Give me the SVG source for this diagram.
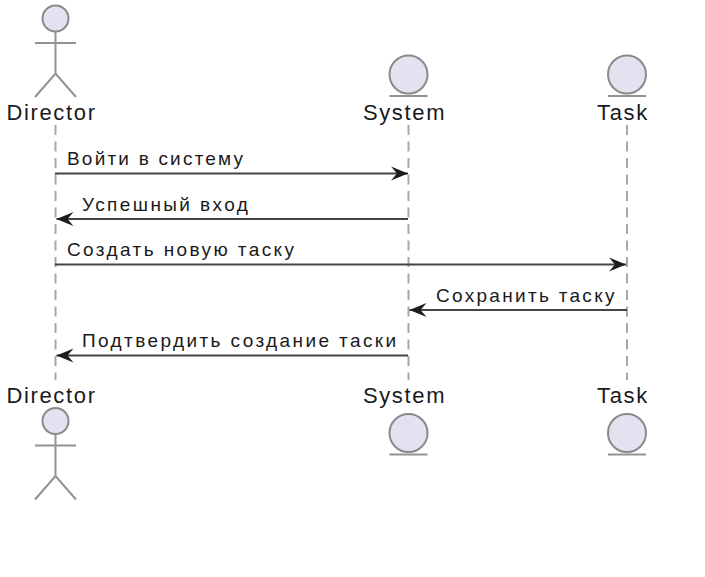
<svg xmlns="http://www.w3.org/2000/svg" width="705" height="577" viewBox="0 0 705 577">
<style>
text{font-family:"Liberation Sans",Arial,sans-serif;fill:#1a1a1a}
.n{font-size:22px;letter-spacing:1.65px;text-anchor:middle}
.m{font-size:19px;letter-spacing:2.4px}
.life{stroke:#a8a8a8;stroke-width:2;stroke-dasharray:10 6.5;fill:none}
.msg{stroke:#444;stroke-width:2;fill:none}
.shape{fill:#e2e2f0;stroke:#8a8a8a;stroke-width:2}
.stroke{fill:none;stroke:#929292;stroke-width:2}
.tip{fill:#1c1c1c}
</style>
<defs>
<g id="actor"><circle class="shape" cx="0" cy="0" r="13"/><path class="stroke" d="M0 13V55M-20.500 24.500H20.500M-20.500 78.500L0 55L20.500 78.500"/></g>
<g id="entity"><circle class="shape" cx="0" cy="0" r="19"/><path class="stroke" d="M-19 21.500H19"/></g>
<marker id="ar" markerUnits="userSpaceOnUse" markerWidth="20" markerHeight="16" refX="18" refY="8" orient="auto-start-reverse"><path class="tip" d="M1 1L18 8L1 15L7 8Z"/></marker>
</defs>
<g id="connectors">
<path class="life" d="M55.500 125V380"/>
<path class="life" d="M408.500 125V380"/>
<path class="life" d="M627 125V380"/>
<path class="msg" marker-end="url(#ar)" d="M55 173.500H408"/>
<path class="msg" marker-start="url(#ar)" d="M56.500 219H408"/>
<path class="msg" marker-end="url(#ar)" d="M55 264.500H626"/>
<path class="msg" marker-start="url(#ar)" d="M409.500 310H627"/>
<path class="msg" marker-start="url(#ar)" d="M56.500 355.500H408"/>
</g>
<g id="director-top"><use href="#actor" x="55.500" y="18.500"/><text class="n" x="51.500" y="120">Director</text></g>
<g id="system-top"><use href="#entity" x="408.500" y="74.500"/><text class="n" x="404.500" y="120">System</text></g>
<g id="task-top"><use href="#entity" x="627" y="74.500"/><text class="n" x="623" y="120">Task</text></g>
<g id="director-bottom"><use href="#actor" x="55.500" y="421"/><text class="n" x="51.500" y="403">Director</text></g>
<g id="system-bottom"><use href="#entity" x="408.500" y="433"/><text class="n" x="404.500" y="403">System</text></g>
<g id="task-bottom"><use href="#entity" x="627" y="433"/><text class="n" x="623" y="403">Task</text></g>
<g id="labels">
<text class="m" x="67" y="164.500" style="letter-spacing:2.2px">Войти в систему</text>
<text class="m" x="82" y="211">Успешный вход</text>
<text class="m" x="67" y="256">Создать новую таску</text>
<text class="m" x="436" y="302" style="letter-spacing:2.3px">Сохранить таску</text>
<text class="m" x="82" y="347">Подтвердить создание таски</text>
</g>
</svg>
